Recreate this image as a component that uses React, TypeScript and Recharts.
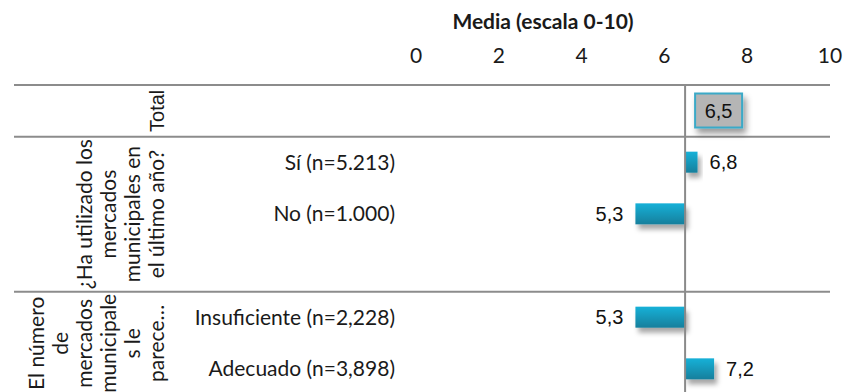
import { BarChart, Bar, XAxis, YAxis, ReferenceLine, LabelList, Label } from "recharts";

// rows, top to bottom (the empty row is a spacer in the second block)
const rowIds = ["total", "si", "no", "gap", "insuf", "adec"];
const rowLabels = ["", "Sí (n=5.213)", "No (n=1.000)", "", "Insuficiente (n=2,228)", "Adecuado (n=3,898)"];
const means: (number | null)[] = [6.5, 6.8, 5.3, null, 5.3, 7.2];
const totalMean = 6.5;
const xTicks = [0, 2, 4, 6, 8, 10];

// block titles drawn vertically on the left
const groupLines = [
  ["Total"],
  ["¿Ha utilizado los", "mercados", "municipales en", "el último año?"],
  ["El número", "de", "mercados", "municipale", "s le", "parece…"],
];
const groupFirstRow = [0, 1, 4];
const groupRowCount = [1, 3, 2];

const W = 848;
const H = 400;
const PLOT_LEFT = 416;
const PLOT_RIGHT = 830;
const LINE_LEFT = 14;
const GROUP_BASELINE = 164;
const GROUP_LINE_GAP = 24;

const data = rowIds.map((id, i) => {
  const v = means[i];
  const lo = v == null ? totalMean : Math.min(totalMean, v);
  const hi = v == null ? totalMean : Math.max(totalMean, v);
  return { id, range: [lo, hi], value: v };
});

const fmt = (v: number) => v.toFixed(1).replace(".", ",");

function RowTick(props: any) {
  const { x, y, payload } = props;
  const i = typeof payload.index === "number" ? payload.index : rowIds.indexOf(payload.value);
  const half = payload.offset || (H - 90) / rowIds.length / 2;
  const rowTop = y - half;
  const g = groupFirstRow.indexOf(i);
  let group = null;
  if (g >= 0) {
    const lines = groupLines[g];
    const cy = rowTop + groupRowCount[g] * half;
    const isTotal = g === 0;
    group = (
      <g>
        <line x1={LINE_LEFT} x2={PLOT_RIGHT} y1={rowTop} y2={rowTop} stroke="#8c8c8c" strokeWidth={2} />
        {lines.map((t, k) => {
          const bx = GROUP_BASELINE - (lines.length - 1 - k) * GROUP_LINE_GAP;
          return (
            <text
              key={k}
              x={bx}
              y={cy}
              transform={`rotate(-90, ${bx}, ${cy})`}
              textAnchor="middle"
              fontSize={isTotal ? 20 : 21}
              fontFamily={isTotal ? "Liberation Sans" : "Lato"}
              fill="#1a1a1a"
            >
              {t}
            </text>
          );
        })}
      </g>
    );
  }
  return (
    <g>
      {group}
      <text x={x} y={y} dy={7} textAnchor="end" fontSize={21} fontFamily="Lato" fill="#1a1a1a">
        {rowLabels[i]}
      </text>
    </g>
  );
}

function BarShape(props: any) {
  const { x, y, width, height } = props;
  if (!width || width < 0.5) return null;
  return (
    <rect x={x} y={y} width={width} height={height} fill="url(#barGrad)" filter="url(#barShadow)" />
  );
}

function ValueLabel(props: any) {
  const vb = props.viewBox || props;
  const { x, y, width, height } = vb;
  const index = props.index;
  const v = means[index];
  if (v == null) return null;
  const cy = y + height / 2;
  const text = fmt(v);
  if (rowIds[index] === "total") {
    const bx = x + width + 10;
    return (
      <g>
        <rect x={bx} y={cy - 17} width={47} height={34} fill="#b5b5b5" stroke="#3aa9c7" strokeWidth={2} filter="url(#boxShadow)" />
        <text x={bx + 23.5} y={cy + 7} textAnchor="middle" fontSize={20} fontFamily="Liberation Sans" fill="#111">
          {text}
        </text>
      </g>
    );
  }
  const right = v >= totalMean;
  const tx = right ? x + width + 12 : x - 12;
  return (
    <text x={tx} y={cy + 7} textAnchor={right ? "start" : "end"} fontSize={20} fontFamily="Liberation Sans" fill="#111">
      {text}
    </text>
  );
}

export default function App() {
  return (
    <div style={{ position: "absolute", left: 0, top: 0, width: W, height: 392, overflow: "hidden", background: "#fff" }}>
      <BarChart
        width={W}
        height={H}
        data={data}
        layout="vertical"
        margin={{ top: 45, right: W - PLOT_RIGHT, bottom: 5, left: 0 }}
        style={{ fontFamily: "Lato" }}
      >
        <defs>
          <linearGradient id="barGrad" x1="0" y1="0" x2="0" y2="1">
            <stop offset="0%" stopColor="#19b1d8" />
            <stop offset="100%" stopColor="#137f9c" />
          </linearGradient>
          <filter id="barShadow" x="-20%" y="-30%" width="160%" height="200%">
            <feDropShadow dx={3} dy={5} stdDeviation={2.5} floodColor="#000" floodOpacity={0.35} />
          </filter>
          <filter id="boxShadow" x="-20%" y="-30%" width="160%" height="190%">
            <feDropShadow dx={3} dy={5} stdDeviation={3} floodColor="#000" floodOpacity={0.4} />
          </filter>
        </defs>
        <XAxis
          type="number"
          orientation="top"
          domain={[0, 10]}
          ticks={xTicks}
          height={40}
          axisLine={false}
          tickLine={false}
          tickSize={0}
          tickMargin={22}
          tick={{ fontSize: 21, fill: "#1a1a1a", fontFamily: "Lato" }}
        >
          <Label
            content={(p: any) => {
              const vb = p.viewBox || { x: PLOT_LEFT, y: 45, width: PLOT_RIGHT - PLOT_LEFT };
              return (
                <text
                  x={vb.x + vb.width / 2 - 80}
                  y={vb.y - 16}
                  textAnchor="middle"
                  fontSize={21}
                  fontWeight="bold"
                  fontFamily="Lato"
                  fill="#1a1a1a"
                >
                  Media (escala 0-10)
                </text>
              );
            }}
          />
        </XAxis>
        <YAxis
          type="category"
          dataKey="id"
          width={PLOT_LEFT}
          axisLine={false}
          tickLine={false}
          tickSize={0}
          tickMargin={21}
          interval={0}
          tick={<RowTick />}
        />
        <ReferenceLine x={totalMean} stroke="#8a8a8a" strokeWidth={2} />
        <Bar dataKey="range" barSize={21} shape={<BarShape />} isAnimationActive={false}>
          <LabelList dataKey="value" content={<ValueLabel />} />
        </Bar>
      </BarChart>
    </div>
  );
}
